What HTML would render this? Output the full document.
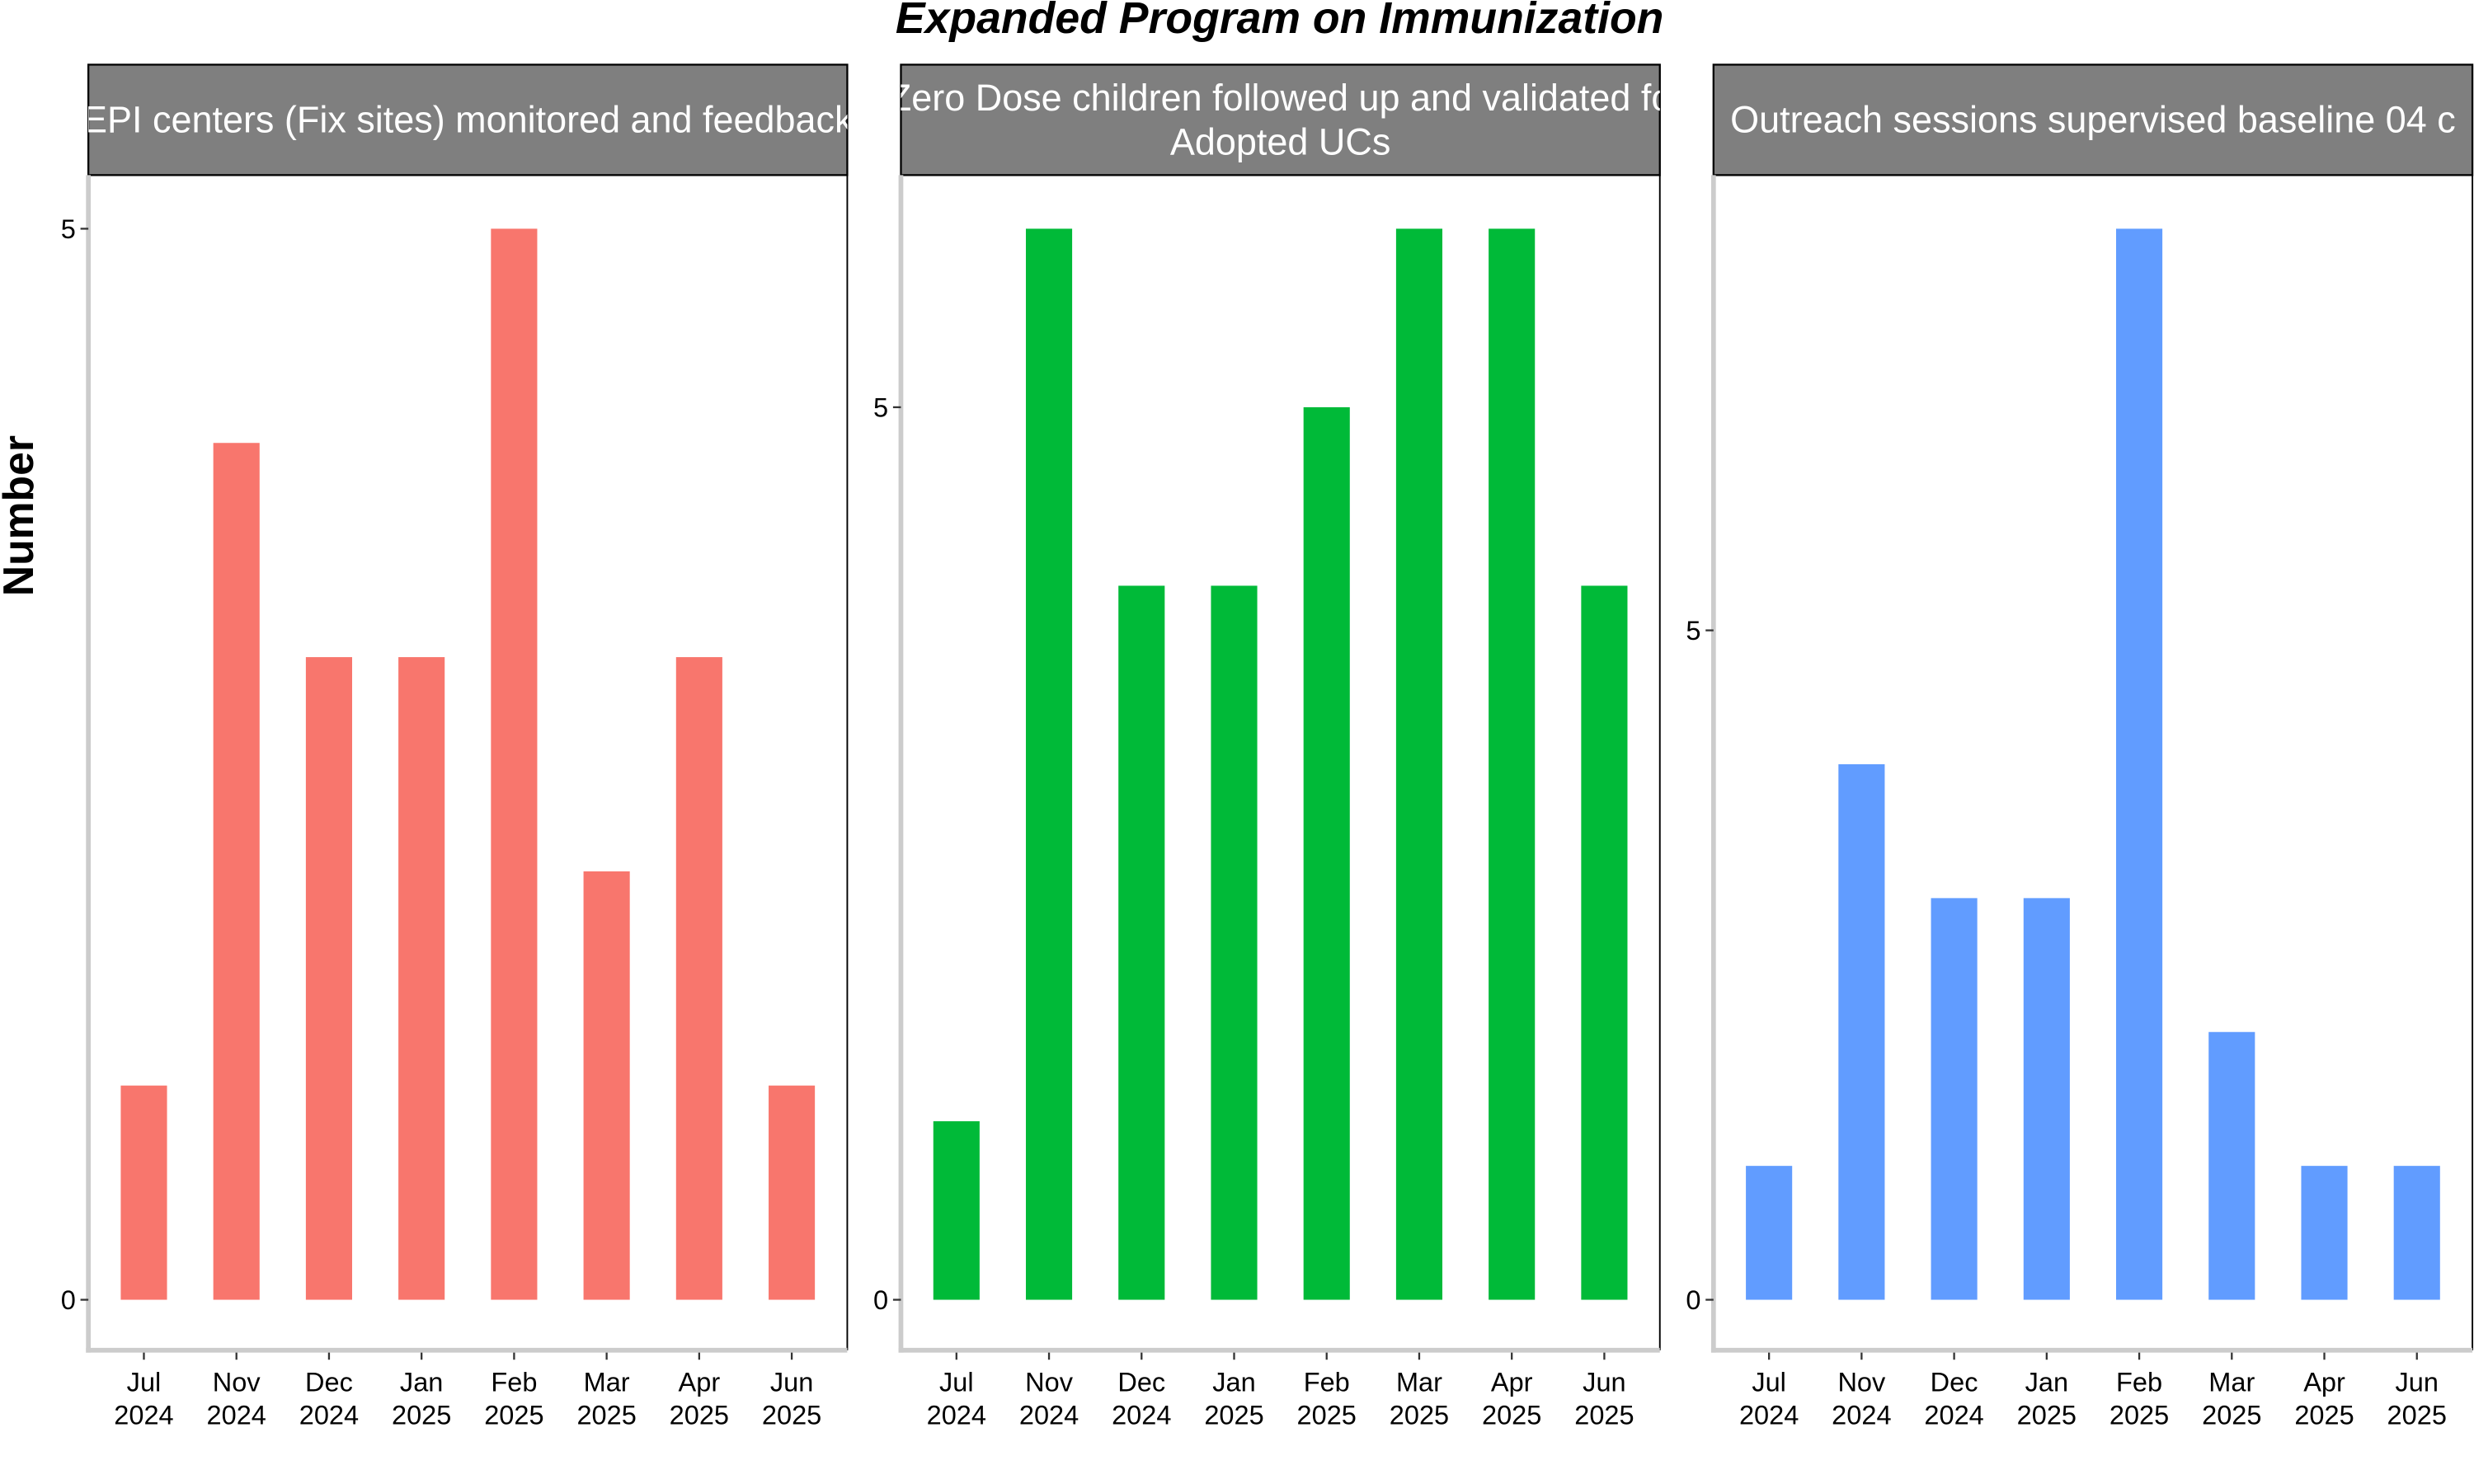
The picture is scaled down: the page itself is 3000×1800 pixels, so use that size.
<!DOCTYPE html>
<html><head><meta charset="utf-8"><style>
html,body{margin:0;padding:0;background:#fff;}
svg{display:block;font-family:"Liberation Sans",Arial,sans-serif;}
</style></head><body>
<svg id="chart" width="3000" height="1800" viewBox="0 0 1568 940.8" preserveAspectRatio="none" xmlns="http://www.w3.org/2000/svg">
<defs>
<clipPath id="c0"><rect x="56" y="41" width="481" height="70"/></clipPath>
<clipPath id="c1"><rect x="571" y="41" width="481" height="70"/></clipPath>
<clipPath id="c2"><rect x="1086" y="41" width="481" height="70"/></clipPath>
</defs>
<text x="811" y="21" text-anchor="middle" font-size="28" font-weight="bold" font-style="italic">Expanded Program on Immunization</text>
<text transform="translate(21,327) rotate(-90)" text-anchor="middle" font-size="27" font-weight="bold">Number</text>
<g id="panels"></g>
</svg>
<script>
const categories = ["Jul\n2024","Nov\n2024","Dec\n2024","Jan\n2025","Feb\n2025","Mar\n2025","Apr\n2025","Jun\n2025"];
const valuesEpiCenters = [1,4,3,3,5,2,3,1];
const valuesZeroDose = [1,6,4,4,5,6,6,4];
const valuesOutreach = [1,4,3,3,8,2,1,1];
const yTicks = [0,5];
const panelTitles = [
  ["EPI centers (Fix sites) monitored and feedback"],
  ["Zero Dose children followed up and validated fo","Adopted UCs"],
  ["Outreach sessions supervised baseline 04 c"]
];
const panelColors = ["#F8766D","#00BA38","#619CFF"];
const allSeries = [valuesEpiCenters, valuesZeroDose, valuesOutreach];

const NS = "http://www.w3.org/2000/svg";
const root = document.getElementById("panels");
function mk(tag, attrs, parent){
  const e = document.createElementNS(NS, tag);
  for (const k in attrs) e.setAttribute(k, attrs[k]);
  parent.appendChild(e);
  return e;
}
const panelLefts = [56, 571, 1086];
const PW = 481, stripTop = 41, stripBot = 111, plotBot = 856, y0 = 824, yTop = 145;

allSeries.forEach((vals, p) => {
  const L = panelLefts[p];
  const g = mk("g", {}, root);
  
  
  const maxV = Math.max(...vals);
  const yS = v => y0 - v / maxV * (y0 - yTop);
  const step = PW / (categories.length - 1 + 1.2);
  const xS = i => L + (0.6 + i) * step;
  const bw = step * 0.5;

  // strip
  const strip = mk("rect", {x:L, y:stripTop, width:PW, height:stripBot-stripTop, fill:"#7f7f7f", stroke:"#000", "stroke-width":1.2}, g);
  
  
  const lines = panelTitles[p];
  const tg = mk("g", {"clip-path":"url(#c"+p+")"}, g);
  lines.forEach((ln, k) => {
    const yy = lines.length === 1 ? 84 : 70 + k*28;
    const t = mk("text", {x:L+PW/2, y:yy, "text-anchor":"middle", "font-size":23.5, fill:"#fff"}, tg);
    
    
    t.textContent = ln;
  });
  // right border
  mk("line", {x1:L+PW, y1:stripBot, x2:L+PW, y2:plotBot, stroke:"#000", "stroke-width":1}, g);
  // axes
  const ya = mk("line", {x1:L, y1:stripBot, x2:L, y2:plotBot+1.5, stroke:"#cccccc", "stroke-width":3}, g);
  
  
  const xa = mk("line", {x1:L-1.5, y1:plotBot, x2:L+PW, y2:plotBot, stroke:"#cccccc", "stroke-width":3}, g);
  
  
  // y ticks
  yTicks.forEach(tv => {
    const y = yS(tv);
    mk("line", {x1:L-5, y1:y, x2:L, y2:y, stroke:"#333", "stroke-width":1.2}, g);
    const t = mk("text", {x:L-8, y:y+6, "text-anchor":"end", "font-size":17}, g);
    
    
    t.textContent = tv;
  });
  // bars and x labels
  vals.forEach((v, i) => {
    const cx = xS(i);
    const r = mk("rect", {x:cx-bw/2, y:yS(v), width:bw, height:y0-yS(v), fill:panelColors[p]}, g);
    
    
    mk("line", {x1:cx, y1:plotBot+1.5, x2:cx, y2:plotBot+6, stroke:"#333", "stroke-width":1.2}, g);
    const parts = categories[i].split("\n");
    parts.forEach((pt, k) => {
      const t = mk("text", {x:cx, y:882+k*21, "text-anchor":"middle", "font-size":17}, g);
      
      
      t.textContent = pt;
    });
  });
});
</script>
</body></html>
